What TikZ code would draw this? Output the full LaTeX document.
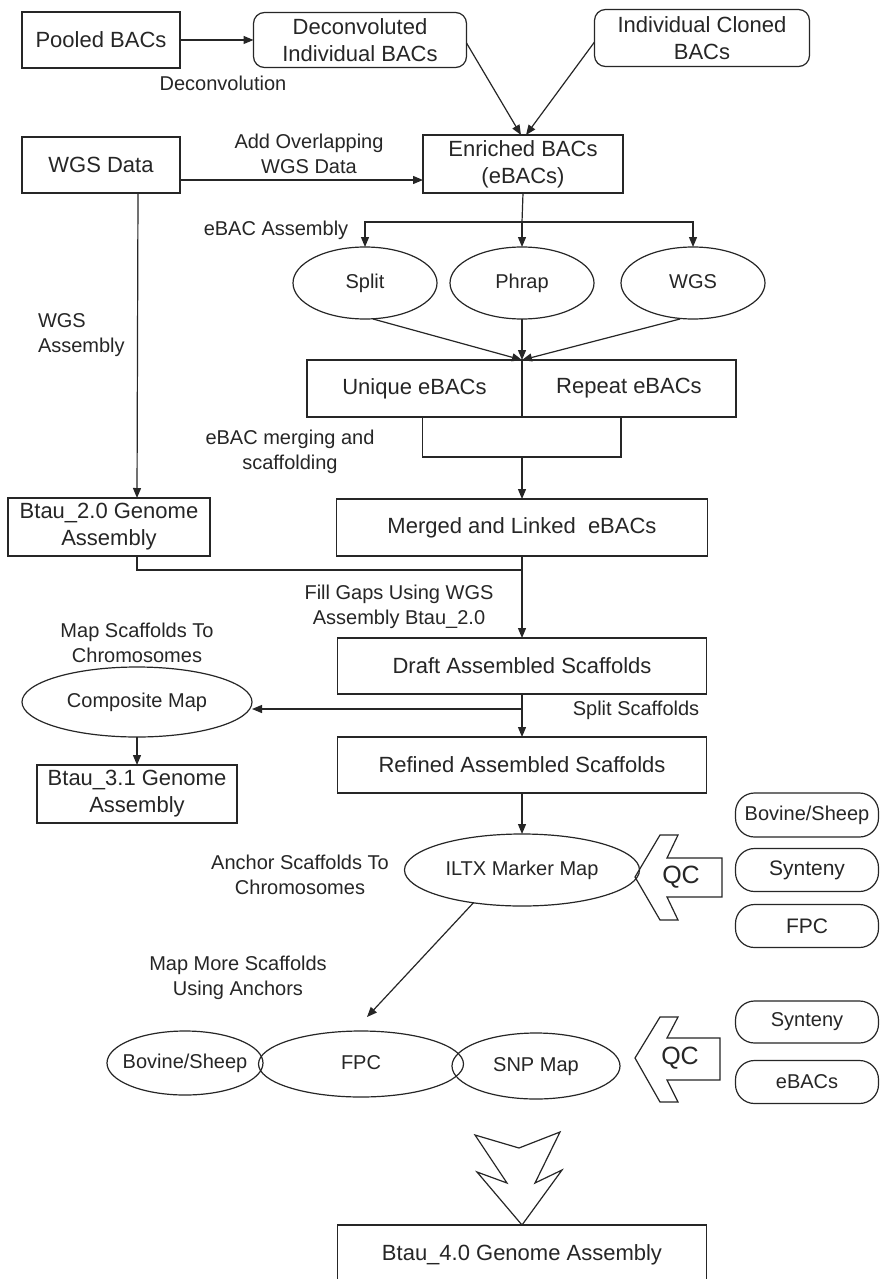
\documentclass[tikz,border=0pt]{standalone}
\usepackage{fontspec}
\setmainfont{Liberation Sans}
\usetikzlibrary{shapes.geometric,arrows.meta,calc}
\begin{document}
\begin{tikzpicture}[x=1pt,y=-1pt,
  every node/.style={inner sep=0pt,outer sep=0pt},
  line/.style={draw=black!85,line width=1.2pt},
  arr/.style={line,-{Triangle[length=10pt,width=8pt]}},
  boxtxt/.style={font=\fontsize{22}{27}\selectfont,align=center,text=black!85},
  box/.style={line,boxtxt,rectangle},
  rbox/.style={box,rounded corners=11pt},
  pill/.style={box,rounded corners=19pt,font=\fontsize{21}{24}\selectfont},
  ell/.style={line,boxtxt,ellipse,font=\fontsize{20}{24}\selectfont,text height=14pt,text depth=4pt},
  lbl/.style={font=\fontsize{20}{25}\selectfont,align=center,text=black!85},
  qc/.style={line,line join=miter}
]
\fill[white] (0,0) rectangle (879,1279);
\useasboundingbox (0,0) rectangle (879,1279);

% top row
\node[box,minimum width=158pt,minimum height=56pt] (pooled) at (101,40) {Pooled BACs};
\node[rbox,minimum width=213pt,minimum height=55pt] (decon) at (360,40) {Deconvoluted\\Individual BACs};
\node[rbox,minimum width=215pt,minimum height=57pt] (indiv) at (702,38) {Individual Cloned\\BACs};
\node[lbl] (ldecon) at (223,83) {Deconvolution};

\node[box,minimum width=158pt,minimum height=56pt] (wgsdata) at (101,165) {WGS Data};
\node[box,minimum width=200pt,minimum height=58pt] (enriched) at (523,164) {Enriched BACs\\(eBACs)};
\node[lbl] (ladd) at (309,154) {Add Overlapping\\WGS Data};

% assembly ellipses
\node[lbl] (lasm) at (276,230) {eBAC Assembly};
\node[ell,minimum width=144pt,minimum height=72pt] (split) at (365,283) {Split};
\node[ell,minimum width=144pt,minimum height=72pt] (phrap) at (522,283) {Phrap};
\node[ell,minimum width=144pt,minimum height=72pt] (wgsell) at (693,283) {WGS};
\coordinate (fork) at (522,222);

% unique / repeat
\node[box,minimum width=215pt,minimum height=57pt] (unique) at (414.5,388.5) {Unique eBACs};
\node[box,minimum width=214pt,minimum height=57pt] (repeat) at (629,388.5) {Repeat eBACs};
\coordinate (mj) at (522,457);
\node[lbl] (lmerge) at (290,452) {eBAC merging and\\scaffolding};

\node[box,minimum width=371pt,minimum height=57pt] (merged) at (522,527.5) {Merged and Linked\ \ eBACs};
\node[lbl,align=left,anchor=west] (lwgsasm) at (38,335) {WGS\\Assembly};
\node[box,minimum width=202pt,minimum height=58pt] (btau2) at (109,527) {Btau\_2.0 Genome\\Assembly};
\coordinate (fillj) at (522,570);
\node[lbl] (lfill) at (399,607) {Fill Gaps Using WGS\\Assembly Btau\_2.0};

\node[box,minimum width=369pt,minimum height=56pt] (draft) at (522,666) {Draft Assembled Scaffolds};
\coordinate (sj) at (522,709);
\node[lbl] (lsplit) at (636,710) {Split Scaffolds};
\node[lbl] (lmap) at (137,643) {Map Scaffolds To\\Chromosomes};
\node[ell,minimum width=230pt,minimum height=70pt] (composite) at (137,702) {Composite Map};
\node[box,minimum width=200pt,minimum height=58pt] (btau31) at (137,794) {Btau\_3.1 Genome\\Assembly};
\node[box,minimum width=369pt,minimum height=56pt] (refined) at (522,765) {Refined Assembled Scaffolds};

% ILTX
\node[ell,minimum width=235pt,minimum height=72pt] (iltx) at (522,870) {\makebox[0pt]{ILTX Marker Map}};
\node[lbl] (lanchor) at (300,875) {Anchor Scaffolds To\\Chromosomes};
\node[pill,minimum width=143pt,minimum height=44pt,font=\fontsize{20}{22}\selectfont] (bs1) at (807,815) {Bovine/Sheep};
\node[pill,minimum width=143pt,minimum height=43pt] (syn1) at (807,870) {Synteny};
\node[pill,minimum width=143pt,minimum height=43pt] (fpc1) at (807,926) {FPC};
\draw[qc] (635,877) -- (660,835) -- (678,835) -- (667,858) -- (722,858) -- (722,897) -- (667,897) -- (678,920) -- (660,920) -- cycle;
\node[font=\fontsize{25}{26}\selectfont,text=black!85] (qc1) at (681,877) {QC};

% bottom row
\node[lbl] (lmore) at (238,978) {Map More Scaffolds\\Using Anchors};
\node[ell,minimum width=156pt,minimum height=64pt] (bov) at (185,1063) {\makebox[0pt]{Bovine/Sheep}};
\node[ell,minimum width=205pt,minimum height=66pt] (fpcb) at (361,1064) {FPC};
\node[ell,minimum width=168pt,minimum height=66pt] (snp) at (536,1066) {SNP Map};
\node[pill,minimum width=143pt,minimum height=42pt,font=\fontsize{20}{22}\selectfont] (syn2) at (807,1022) {Synteny};
\node[pill,minimum width=143pt,minimum height=43pt,font=\fontsize{20}{22}\selectfont] (ebacs2) at (807,1082) {eBACs};
\draw[qc] (635,1058) -- (660,1017) -- (678,1017) -- (667,1038) -- (720,1038) -- (720,1080) -- (667,1080) -- (678,1102) -- (660,1102) -- cycle;
\node[font=\fontsize{25}{26}\selectfont,text=black!85] (qc2) at (680,1058) {QC};

% big down arrow
\draw[qc] (475,1135) -- (519,1148) -- (560,1132) -- (535,1183) -- (562,1170) -- (522,1225) -- (477,1172) -- (507,1183) -- cycle;
\node[box,minimum width=369pt,minimum height=62pt,anchor=north] (btau4) at (522,1225) {};
\node[boxtxt] (btau4t) at (522,1255) {Btau\_4.0 Genome Assembly};

% connectors
\draw[arr] (pooled.east) -- (decon.west);
\draw[arr] ([yshift=-3pt]decon.east) -- ([xshift=-2pt]enriched.north);
\draw[arr] ([yshift=-4pt]indiv.west) -- ([xshift=3pt]enriched.north);
\draw[arr] ([yshift=-15pt]wgsdata.east) -- ([yshift=-15pt]wgsdata.east -| enriched.west);
\draw[line] (enriched.south) -- (fork);
\draw[arr] (fork) -| (split.north);
\draw[arr] (fork) -| (wgsell.north);
\draw[arr] (fork) -- (phrap.north);
\draw[arr] ([xshift=8pt]split.south) -- (unique.north east);
\draw[arr] (phrap.south) -- (unique.north east);
\draw[arr] ([xshift=-13pt]wgsell.south) -- (unique.north east);
\draw[line] ([xshift=8pt]unique.south) |- (mj) -| ([xshift=-8pt]repeat.south);
\draw[arr] (mj) -- (merged.north);
\draw[arr] ([xshift=37pt]wgsdata.south) -- ([xshift=28pt]btau2.north);
\draw[line] ([xshift=28pt]btau2.south) |- (fillj);
\draw[arr] (merged.south) -- (draft.north);
\draw[arr] (draft.south) -- (refined.north);
\draw[arr] (sj) -- (sj -| composite.east);
\draw[arr] (composite.south) -- (btau31.north);
\draw[arr] (refined.south) -- (iltx.north);
\draw[arr] (iltx.214) -- ([xshift=6pt,yshift=14pt]fpcb.north);
\end{tikzpicture}
\end{document}
